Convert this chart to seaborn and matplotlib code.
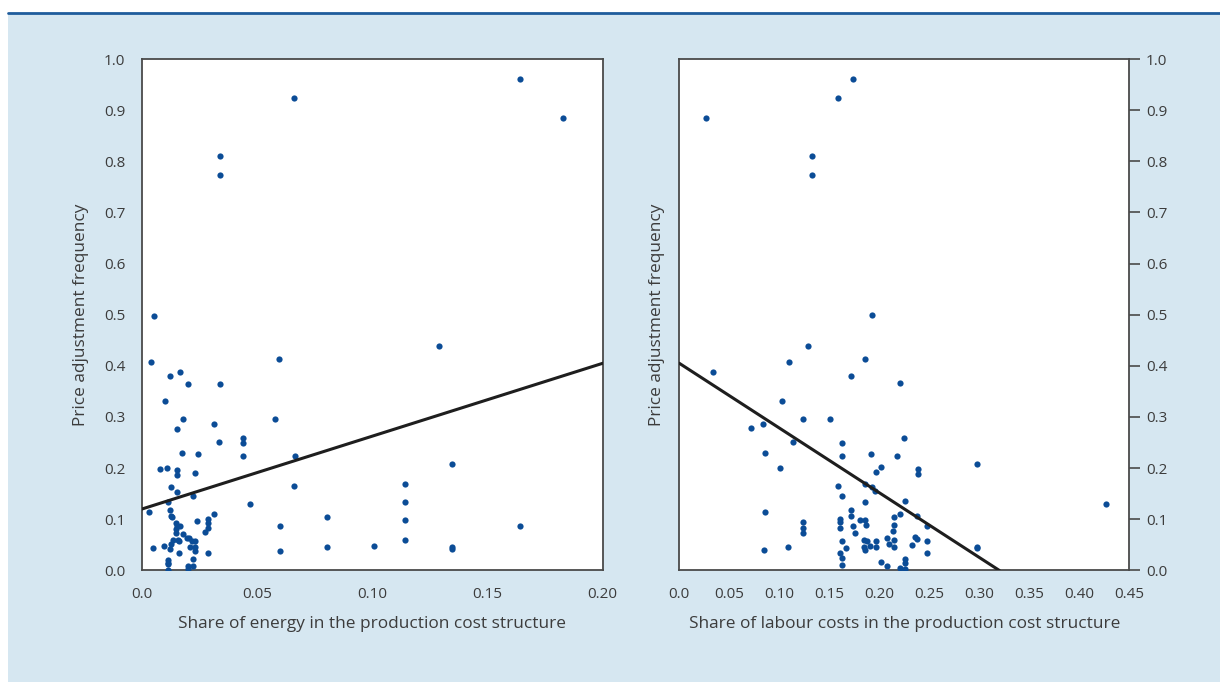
import numpy as np
import pandas as pd

import matplotlib
matplotlib.use('Agg')
import matplotlib.pyplot as plt
import seaborn as sns
from matplotlib.patches import Rectangle
from matplotlib.lines import Line2D


# share of energy vs price adjustment frequency (left panel)
energy_share = [0.0054, 0.0337, 0.0337, 0.0658, 0.164, 0.1826, 0.129, 0.1347, 0.1141, 0.1141,
                0.1141, 0.1141, 0.1007, 0.1347, 0.1347, 0.164, 0.0802, 0.0802, 0.0599, 0.0599,
                0.004, 0.0597, 0.0124, 0.0166, 0.0202, 0.0341, 0.0101, 0.0179, 0.0315, 0.0577,
                0.0154, 0.0335, 0.0437, 0.044, 0.044, 0.0176, 0.0245, 0.0664, 0.0077, 0.011,
                0.0154, 0.0154, 0.0231, 0.0127, 0.0152, 0.0221, 0.0661, 0.0114, 0.0032, 0.0124,
                0.0127, 0.013, 0.0468, 0.0313, 0.0238, 0.0287, 0.0287, 0.0147, 0.0154, 0.0164,
                0.0147, 0.0147, 0.0179, 0.0276, 0.0287, 0.0049, 0.0097, 0.0121, 0.0126, 0.0133,
                0.0156, 0.016, 0.0195, 0.0206, 0.0219, 0.0231, 0.0209, 0.0231, 0.0229, 0.016,
                0.0287, 0.0221, 0.0113, 0.0113, 0.0114, 0.0113, 0.0202, 0.0202, 0.0221]
freq_energy = [0.498, 0.810, 0.774, 0.924, 0.960, 0.885, 0.439, 0.209, 0.168, 0.133,
               0.098, 0.059, 0.048, 0.045, 0.042, 0.086, 0.105, 0.046, 0.087, 0.038,
               0.407, 0.413, 0.380, 0.387, 0.365, 0.365, 0.331, 0.296, 0.286, 0.296,
               0.277, 0.252, 0.259, 0.249, 0.224, 0.230, 0.227, 0.224, 0.199, 0.201,
               0.197, 0.187, 0.191, 0.164, 0.154, 0.145, 0.165, 0.134, 0.114, 0.118,
               0.107, 0.105, 0.129, 0.110, 0.097, 0.100, 0.093, 0.093, 0.086, 0.087,
               0.080, 0.073, 0.072, 0.076, 0.082, 0.043, 0.047, 0.042, 0.052, 0.059,
               0.060, 0.057, 0.064, 0.063, 0.057, 0.057, 0.046, 0.046, 0.038, 0.034,
               0.035, 0.023, 0.021, 0.014, 0.012, 0.001, 0.008, 0.003, 0.009]

# share of labour costs vs price adjustment frequency (right panel)
labour_share = [0.174, 0.1587, 0.0267, 0.1324, 0.1324, 0.1927, 0.129, 0.110, 0.186, 0.0337,
                0.1714, 0.221, 0.103, 0.124, 0.151, 0.0717, 0.0837, 0.1134, 0.2244, 0.163,
                0.0857, 0.163, 0.1917, 0.218, 0.101, 0.2014, 0.2384, 0.2384, 0.1964, 0.298,
                0.1587, 0.1857, 0.1924, 0.1957, 0.163, 0.1857, 0.226, 0.1714, 0.1714, 0.221,
                0.2374, 0.0857, 0.1234, 0.1234, 0.1234, 0.161, 0.161, 0.161, 0.1804, 0.1857,
                0.1864, 0.174, 0.176, 0.215, 0.2144, 0.214, 0.2474, 0.2074, 0.2144, 0.2094,
                0.215, 0.2357, 0.238, 0.233, 0.2474, 0.2474, 0.1964, 0.1964, 0.1907, 0.185,
                0.1874, 0.1844, 0.1857, 0.163, 0.1667, 0.161, 0.163, 0.163, 0.0844, 0.1087,
                0.2014, 0.2074, 0.221, 0.226, 0.226, 0.226, 0.298, 0.298, 0.4267]
freq_labour = [0.960, 0.924, 0.885, 0.810, 0.774, 0.499, 0.439, 0.407, 0.413, 0.387,
               0.380, 0.366, 0.332, 0.297, 0.297, 0.278, 0.287, 0.252, 0.259, 0.249,
               0.230, 0.224, 0.228, 0.224, 0.200, 0.202, 0.198, 0.188, 0.192, 0.209,
               0.166, 0.168, 0.164, 0.155, 0.145, 0.133, 0.136, 0.119, 0.107, 0.111,
               0.106, 0.114, 0.095, 0.083, 0.074, 0.101, 0.095, 0.083, 0.098, 0.099,
               0.088, 0.086, 0.073, 0.105, 0.089, 0.078, 0.087, 0.064, 0.059, 0.052,
               0.046, 0.065, 0.061, 0.050, 0.058, 0.035, 0.058, 0.046, 0.048, 0.059,
               0.057, 0.046, 0.040, 0.058, 0.044, 0.035, 0.024, 0.010, 0.040, 0.046,
               0.016, 0.009, 0.005, 0.022, 0.014, 0.002, 0.045, 0.043, 0.130]

# fitted regression lines
fit_energy_x = [0.0, 0.20]
fit_energy_y = [0.12, 0.405]
fit_labour_x = [0.0, 0.32]
fit_labour_y = [0.405, 0.0]

y_ticks = [0.0, 0.1, 0.2, 0.3, 0.4, 0.5, 0.6, 0.7, 0.8, 0.9, 1.0]
energy_ticks = [0.0, 0.05, 0.10, 0.15, 0.20]
energy_labels = ['0.0', '0.05', '0.10', '0.15', '0.20']
labour_ticks = [0.0, 0.05, 0.10, 0.15, 0.20, 0.25, 0.30, 0.35, 0.40, 0.45]
labour_labels = ['0.0', '0.05', '0.10', '0.15', '0.20', '0.25', '0.30', '0.35', '0.40', '0.45']

ylabel = 'Price adjustment frequency'
xlabel_energy = 'Share of energy in the production cost structure'
xlabel_labour = 'Share of labour costs in the production cost structure'


sns.set_style('white')
plt.rcParams['font.family'] = ['Open Sans', 'DejaVu Sans']

dot_color = '#0B4C96'
text_color = '#3C3C3C'
spine_color = '#4A4A4A'
bg_color = '#D6E7F1'

fig = plt.figure(figsize=(12.2, 6.82), dpi=100)
fig.patch.set_facecolor('white')
fig.patches.append(Rectangle((8 / 1220, 0), 1, 668 / 682, transform=fig.transFigure,
                             facecolor=bg_color, edgecolor='none', zorder=-10))
fig.lines.append(Line2D([8 / 1220, 1], [669 / 682, 669 / 682], transform=fig.transFigure,
                        color='#1F5C9C', linewidth=2, zorder=-9))

ax1 = fig.add_axes([141.9 / 1220, 111.6 / 682, 460.8 / 1220, 511.4 / 682])
ax2 = fig.add_axes([679.3 / 1220, 111.6 / 682, 450.0 / 1220, 511.4 / 682])

left_df = pd.DataFrame({'x': energy_share, 'y': freq_energy})
right_df = pd.DataFrame({'x': labour_share, 'y': freq_labour})

sns.scatterplot(data=left_df, x='x', y='y', ax=ax1, color=dot_color, s=20, linewidth=0, zorder=3)
sns.lineplot(x=fit_energy_x, y=fit_energy_y, ax=ax1, color='#1E1E1E', linewidth=2.2, zorder=4)

sns.scatterplot(data=right_df, x='x', y='y', ax=ax2, color=dot_color, s=20, linewidth=0, zorder=3)
sns.lineplot(x=fit_labour_x, y=fit_labour_y, ax=ax2, color='#1E1E1E', linewidth=2.2, zorder=4)

for ax, xt, xl, lab in [(ax1, energy_ticks, energy_labels, xlabel_energy),
                        (ax2, labour_ticks, labour_labels, xlabel_labour)]:
    ax.set_facecolor('white')
    ax.set_ylim(0, 1.0)
    ax.set_xlim(xt[0], xt[-1])
    ax.set_yticks(y_ticks)
    ax.set_yticklabels([f'{t:.1f}' for t in y_ticks])
    ax.set_xticks(xt)
    ax.set_xticklabels(xl)
    ax.set_xlabel(lab, fontsize=12.4, color=text_color, labelpad=10)
    ax.set_ylabel(ylabel, fontsize=12.4, color=text_color)
    for sp in ax.spines.values():
        sp.set_visible(True)
        sp.set_color(spine_color)
        sp.set_linewidth(1.3)
    ax.tick_params(axis='x', direction='in', length=7, width=1.2, color=spine_color,
                   labelsize=11, labelcolor=text_color, pad=12)
    ax.tick_params(axis='y', direction='out', length=8, width=1.2, color=spine_color,
                   labelsize=11, labelcolor=text_color, pad=4)

ax1.yaxis.labelpad = 11
ax2.yaxis.tick_right()
ax2.yaxis.set_label_position('left')
ax2.yaxis.labelpad = 10

plt.savefig('out.png', dpi=100, facecolor=fig.get_facecolor())
